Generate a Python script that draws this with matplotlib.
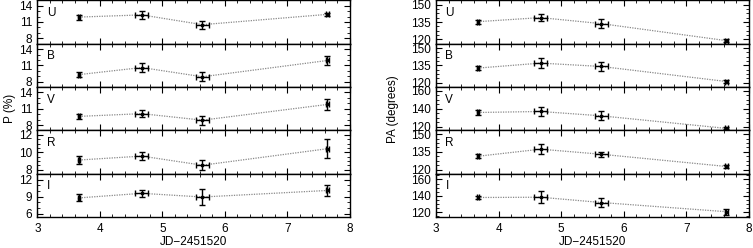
import matplotlib
matplotlib.use("Agg")
import matplotlib.pyplot as plt
from matplotlib.ticker import AutoMinorLocator, FixedLocator

plt.rcParams['font.family'] = ['Liberation Sans', 'DejaVu Sans']

bands = ["U", "B", "V", "R", "I"]
jd = [3.67, 4.67, 5.64, 7.64]
jd_err = [0.02, 0.1, 0.1, 0.02]

p_vals = {
    "U": [11.9, 12.3, 10.5, 12.4],
    "B": [9.3, 10.6, 8.9, 11.9],
    "V": [9.6, 10.1, 8.9, 11.8],
    "R": [9.1, 9.55, 8.5, 10.4],
    "I": [8.8, 9.6, 8.95, 10.1],
}
p_errs = {
    "U": [0.45, 0.75, 0.75, 0.3],
    "B": [0.5, 0.8, 0.8, 0.8],
    "V": [0.5, 0.7, 0.8, 1.0],
    "R": [0.5, 0.5, 0.55, 1.1],
    "I": [0.6, 0.6, 1.35, 0.9],
}
pa_vals = {
    "U": [135.3, 138.8, 133.6, 118.9],
    "B": [132.7, 137.0, 134.1, 121.1],
    "V": [135.9, 137.0, 132.2, 118.3],
    "R": [131.3, 137.3, 133.0, 122.6],
    "I": [138.1, 138.4, 132.0, 120.8],
}
pa_errs = {
    "U": [1.6, 2.9, 3.6, 1.0],
    "B": [1.5, 4.5, 4.2, 1.0],
    "V": [2.4, 4.8, 5.0, 1.0],
    "R": [1.5, 4.0, 2.3, 1.2],
    "I": [2.4, 7.0, 6.0, 3.6],
}

p_ticks = {"U": [8, 11, 14], "B": [8, 11, 14], "V": [8, 11, 14], "R": [8, 10, 12], "I": [6, 9, 12]}
p_lims = {"U": (7, 15), "B": (7, 15), "V": (7, 15), "R": (7.5, 12.5), "I": (5.4, 13.0)}
pa_ticks = {"U": [120, 135, 150], "B": [120, 135, 150], "V": [120, 140, 160], "R": [120, 135, 150], "I": [120, 140, 160]}
pa_lims = {"U": (116.3, 153.8), "B": (116.3, 153.8), "V": (116, 164), "R": (116.3, 153.2), "I": (114, 166.8)}

fig = plt.figure(figsize=(7.53, 2.48), dpi=100)
fs = 8.5

def make_column(left, right, vals, errs, ticks, lims, ylabel, ylabel_x):
    bottom, top = 1 - 217.3 / 248, 0.999
    h = (top - bottom) / 5
    for i, b in enumerate(bands):
        ax = fig.add_axes([left, top - (i + 1) * h, right - left, h])
        ax.errorbar(jd, vals[b], yerr=errs[b], xerr=jd_err, fmt="s", ms=2.0,
                    color="black", ecolor="black", elinewidth=1.0, capsize=2.2,
                    capthick=1.0, zorder=3)
        ax.plot(jd, vals[b], linestyle=(0, (1, 1)), color="#888888", lw=0.9, zorder=2)
        ax.set_xlim(3, 8)
        ax.set_ylim(*lims[b])
        ax.yaxis.set_major_locator(FixedLocator(ticks[b]))
        ax.yaxis.set_minor_locator(AutoMinorLocator(3 if ticks[b][1] - ticks[b][0] == 3 else 4))
        ax.xaxis.set_minor_locator(AutoMinorLocator(5))
        ax.tick_params(which="both", direction="in", top=True, right=True, labelsize=fs)
        ax.tick_params(which="major", length=4, width=0.8)
        ax.tick_params(which="minor", length=2, width=0.6)
        ax.tick_params(axis="x", pad=4)
        for s in ax.spines.values():
            s.set_linewidth(1.0)
        ax.text(0.03, 0.85, b, transform=ax.transAxes, fontsize=fs, va="top", ha="left")
        if i < 4:
            ax.tick_params(labelbottom=False)
        else:
            ax.set_xlabel("JD\u22122451520", fontsize=fs, labelpad=0.5)
    fig.text(ylabel_x, (bottom + top) / 2, ylabel, rotation=90, va="center", ha="center", fontsize=fs)

make_column(37.3 / 753, 350 / 753, p_vals, p_errs, p_ticks, p_lims, "P (%)", 10 / 753)
make_column(436 / 753, 749 / 753, pa_vals, pa_errs, pa_ticks, pa_lims, "PA (degrees)", 393 / 753)

fig.savefig("out.png", dpi=100)
